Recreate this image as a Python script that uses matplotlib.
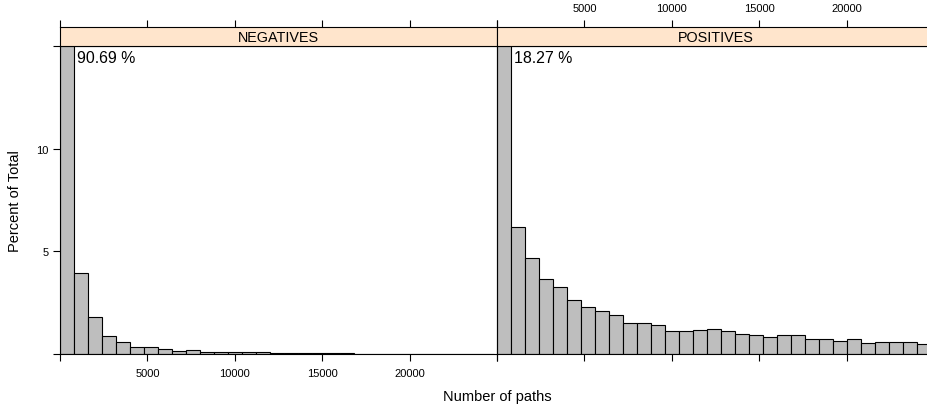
import matplotlib
matplotlib.use("Agg")
import matplotlib.pyplot as plt
import numpy as np

plt.rcParams['font.family'] = ['Liberation Sans', 'DejaVu Sans']

# ---- data -------------------------------------------------------------
panels = ["NEGATIVES", "POSITIVES"]
bin_width = 800
neg_pct = [90.69, 3.93, 1.80, 0.87, 0.58, 0.34, 0.33, 0.25, 0.16, 0.18,
           0.09, 0.08, 0.09, 0.09, 0.08, 0.07, 0.05, 0.04, 0.03, 0.03,
           0.04, 0.02, 0.02, 0.01, 0.01, 0.02, 0.01, 0.01, 0.02, 0.01, 0.0]
pos_pct = [18.27, 6.18, 4.68, 3.66, 3.27, 2.61, 2.31, 2.10, 1.91, 1.52,
           1.50, 1.42, 1.13, 1.10, 1.15, 1.20, 1.10, 0.96, 0.92, 0.81,
           0.91, 0.91, 0.73, 0.73, 0.65, 0.73, 0.53, 0.57, 0.60, 0.57, 0.47]
first_bar_labels = ["90.69 %", "18.27 %"]
x_ticks = [0, 5000, 10000, 15000, 20000, 25000]
x_ticklabels = ["", "5000", "10000", "15000", "20000", ""]
y_ticks = [0, 5, 10, 15]
y_ticklabels = ["", "5", "10", ""]
xlabel = "Number of paths"
ylabel = "Percent of Total"

# ---- layout -----------------------------------------------------------
W, H = 928, 410
fig = plt.figure(figsize=(W / 100, H / 100), dpi=100)


def rect(x0, y0, x1, y1):
    return [x0 / W, 1 - y1 / H, (x1 - x0) / W, (y1 - y0) / H]


xlim = (0, 25000)
ylim = (0, 15)
strip_col = "#FFE5CC"
bar_col = "#BEBEBE"
lw = 0.8

panel_px = [(60, 497), (497, 934)]
series = [neg_pct, pos_pct]

for i, (name, vals, lab, (px0, px1)) in enumerate(zip(panels, series, first_bar_labels, panel_px)):
    ax = fig.add_axes(rect(px0, 47, px1, 355))
    st = fig.add_axes(rect(px0, 28, px1, 47))

    left_edges = np.arange(len(vals)) * bin_width
    ax.bar(left_edges, vals, width=bin_width, align="edge",
           color=bar_col, edgecolor="black", linewidth=lw)
    ax.set_xlim(*xlim)
    ax.set_ylim(*ylim)
    ax.text(950, 14.45, lab, ha="left", va="center", fontsize=11.4)

    for sp in ax.spines.values():
        sp.set_linewidth(lw)
        sp.set_color("black")

    ax.set_xticks(x_ticks)
    ax.tick_params(axis="both", direction="out", length=5, width=lw,
                   labelsize=8, colors="black")
    if i == 0:
        ax.set_xticklabels(x_ticklabels)
        ax.tick_params(axis="x", pad=5)
        ax.set_yticks(y_ticks)
        ax.set_yticklabels(y_ticklabels)
        ax.tick_params(axis="y", pad=3)
    else:
        ax.set_xticklabels([""] * len(x_ticks))
        ax.set_yticks([])

    # strip
    st.set_facecolor(strip_col)
    st.set_xlim(*xlim)
    st.set_ylim(0, 1)
    st.set_yticks([])
    st.xaxis.tick_top()
    st.set_xticks(x_ticks)
    st.tick_params(axis="x", direction="out", length=5, width=lw,
                   labelsize=8, pad=5, colors="black")
    if i == 1:
        st.set_xticklabels(x_ticklabels)
    else:
        st.set_xticklabels([""] * len(x_ticks))
    for sp in st.spines.values():
        sp.set_linewidth(lw)
        sp.set_color("black")
    st.text(0.5, 0.45, name, transform=st.transAxes, ha="center",
            va="center", fontsize=10.4)

fig.text(497 / W, 1 - 397 / H, xlabel, ha="center", va="center", fontsize=10.5)
fig.text(15.5 / W, 1 - 201 / H, ylabel, ha="center", va="center",
         rotation=90, fontsize=10.5)

fig.savefig("out.png", dpi=100)
